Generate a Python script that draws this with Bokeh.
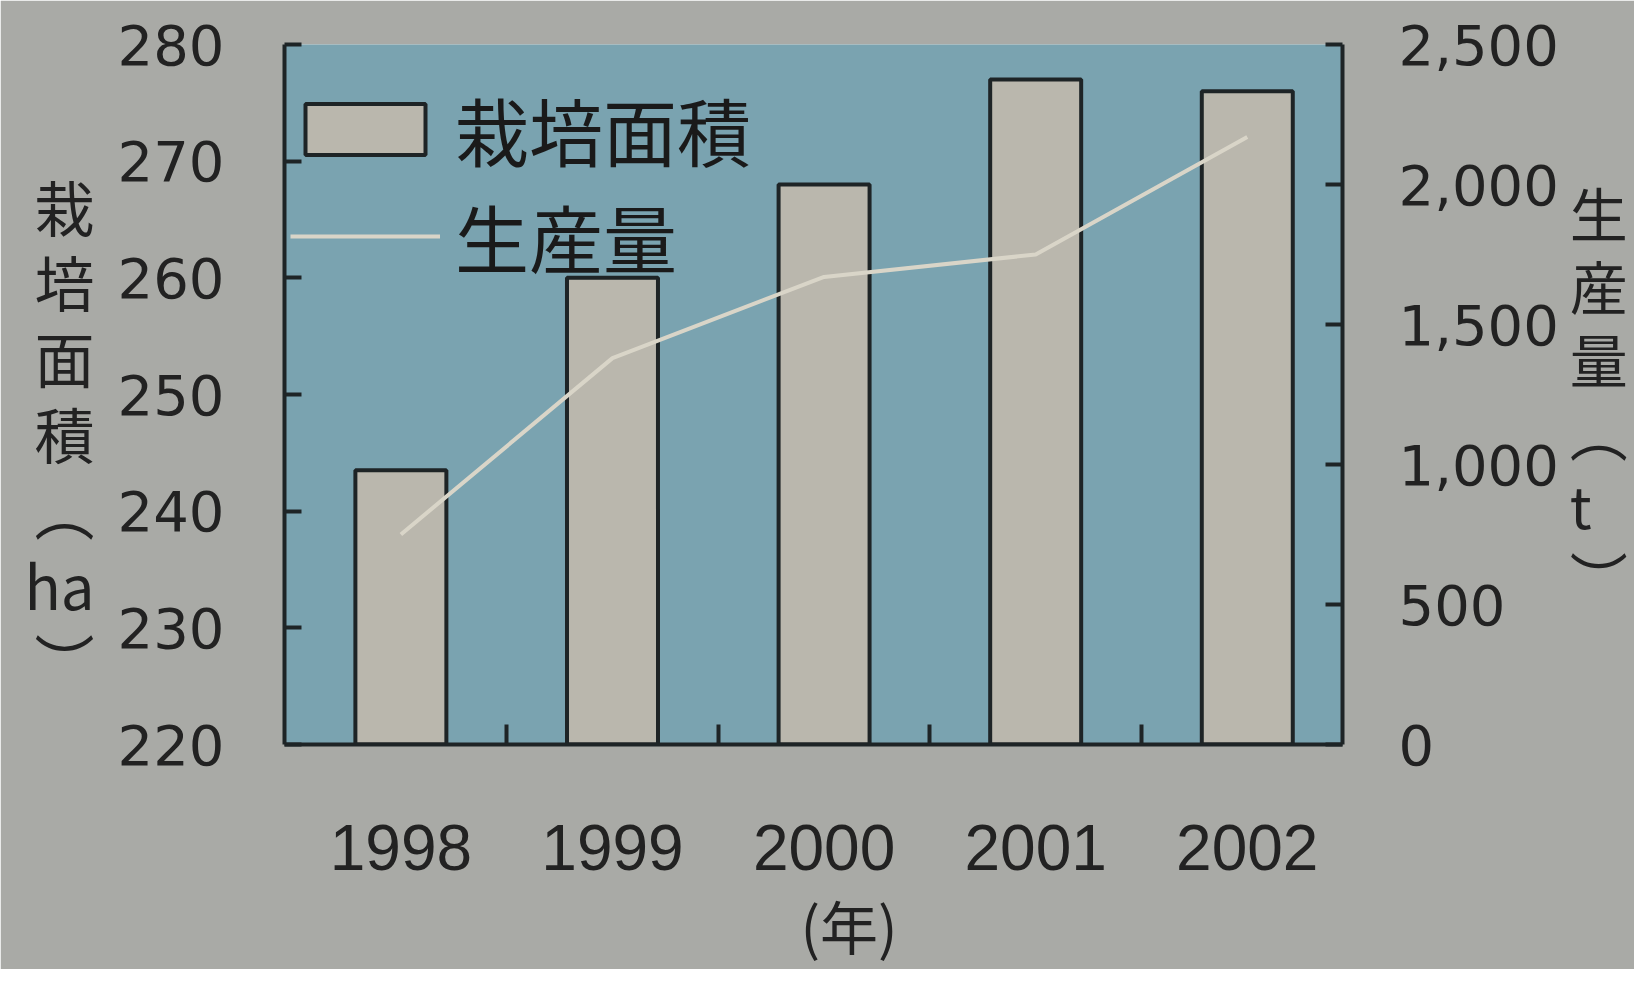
from bokeh.plotting import figure
from bokeh.models import Range1d, LinearAxis, FixedTicker, NumeralTickFormatter, Legend, LegendItem
from bokeh.embed import file_html
from bokeh.resources import INLINE

years = ["1998", "1999", "2000", "2001", "2002"]
xpos = [1, 2, 3, 4, 5]
area_ha = [243.5, 260, 268, 277, 276]
production_t = [750, 1380, 1670, 1750, 2170]
area_ticks = [220, 230, 240, 250, 260, 270, 280]
prod_ticks = [0, 500, 1000, 1500, 2000, 2500]
between_ticks = [1.5, 2.5, 3.5, 4.5]

BG = "#a9aaa6"
PLOT_BG = "#7aa3b0"
BAR = "#bab7ad"
LINE = "#d9d5c8"
INK = "#1e2426"
TXT = "#222222"
NUM_FONT = "DejaVu Sans"
CJK = "Noto Sans CJK JP"

p = figure(frame_width=1058, frame_height=700,
           min_border_left=284, min_border_top=44, min_border_right=292, min_border_bottom=225,
           x_range=Range1d(0.45, 5.45), y_range=Range1d(220, 280),
           x_axis_location=None, y_axis_location=None,
           output_backend="svg", toolbar_location=None)
p.extra_y_ranges = {"prod": Range1d(0, 2500)}
p.background_fill_color = PLOT_BG
p.border_fill_color = BG
p.outline_line_color = None
p.grid.visible = False

bars = p.vbar(x=xpos, top=area_ha, bottom=area_ticks[0], width=0.43,
              fill_color=BAR, line_color=INK, line_width=4)
line = p.line(x=xpos, y=production_t, y_range_name="prod", line_color=LINE, line_width=4)


def style_axis(ax):
    ax.axis_line_width = 4
    ax.axis_line_color = INK
    ax.major_tick_in = 17
    ax.major_tick_out = 0
    ax.major_tick_line_width = 4
    ax.major_tick_line_color = INK
    ax.minor_tick_line_color = None


# left axis
ly = LinearAxis(ticker=FixedTicker(ticks=area_ticks))
style_axis(ly)
ly.major_label_text_font = NUM_FONT
ly.major_label_text_font_size = "56px"
ly.major_label_text_color = TXT
ly.major_label_standoff = 60
ly.axis_label = "\u3000\n栽\n培\n面\n積\n︵\nha\n︶"
ly.axis_label_orientation = "horizontal"
ly.axis_label_text_font = CJK
ly.axis_label_text_font_size = "60px"
ly.axis_label_text_line_height = 0.87
ly.axis_label_text_font_style = "normal"
ly.axis_label_text_color = TXT
ly.axis_label_standoff = 20
p.add_layout(ly, "left")

# right axis
ry = LinearAxis(y_range_name="prod", ticker=FixedTicker(ticks=prod_ticks),
                formatter=NumeralTickFormatter(format="0,0"))
style_axis(ry)
ry.major_label_text_font = NUM_FONT
ry.major_label_text_font_size = "56px"
ry.major_label_text_color = TXT
ry.major_label_standoff = 56
ry.axis_label = "生\n産\n量\n︵\nt\n︶"
ry.axis_label_orientation = "horizontal"
ry.axis_label_text_font = CJK
ry.axis_label_text_font_size = "58px"
ry.axis_label_text_line_height = 0.87
ry.axis_label_text_font_style = "normal"
ry.axis_label_text_color = TXT
ry.axis_label_standoff = 8
p.add_layout(ry, "right")

# bottom axis with tick marks between the years
bx = LinearAxis(ticker=FixedTicker(ticks=between_ticks))
style_axis(bx)
bx.major_tick_in = 20
bx.major_label_text_font_size = "1px"
bx.major_label_text_color = None
bx.major_label_standoff = 0
p.add_layout(bx, "below")

# bottom axis with year labels
lx = LinearAxis(ticker=FixedTicker(ticks=xpos),
                major_label_overrides={x: y for x, y in zip(xpos, years)})
lx.axis_line_color = None
lx.major_tick_line_color = None
lx.minor_tick_line_color = None
lx.major_label_text_font = "Liberation Sans"
lx.major_label_text_font_size = "64px"
lx.major_label_text_color = TXT
lx.major_label_standoff = 74
lx.axis_label = "\u3000 (年)"
lx.axis_label_text_font = CJK
lx.axis_label_text_font_size = "58px"
lx.axis_label_text_font_style = "normal"
lx.axis_label_text_color = TXT
lx.axis_label_standoff = 10
p.add_layout(lx, "below")

legend = Legend(items=[LegendItem(label="栽培面積", renderers=[bars]),
                       LegendItem(label="生産量", renderers=[line])],
                location=(6, 455))
legend.background_fill_alpha = 0
legend.border_line_color = None
legend.label_text_font = CJK
legend.label_text_font_size = "74px"
legend.label_text_color = "#1a1a1a"
legend.glyph_width = 150
legend.glyph_height = 64
legend.label_height = 80
legend.spacing = 0
legend.label_standoff = 15
legend.padding = 0
legend.margin = 0
p.add_layout(legend, "center")

open("out.html", "w").write(file_html(p, INLINE))
